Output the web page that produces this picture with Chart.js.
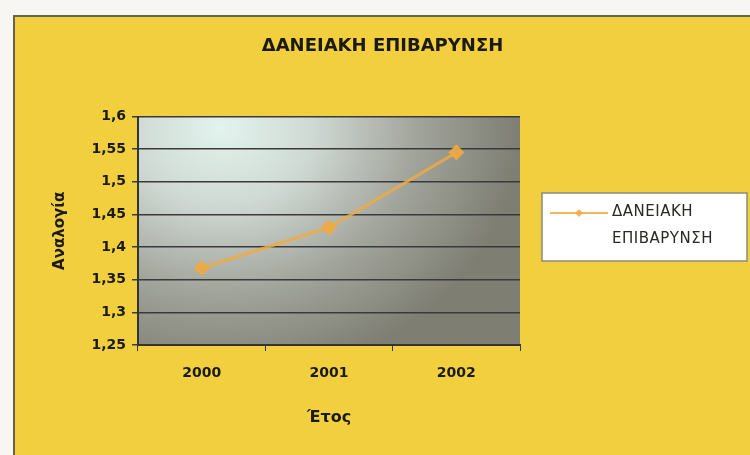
<!DOCTYPE html>
<html>
<head>
<meta charset="utf-8">
<script src="https://cdn.jsdelivr.net/npm/chart.js@4"></script>
<style>
  html, body { margin: 0; padding: 0; background: #f7f6f2; }
  #wrap {
    position: absolute; left: 13px; top: 15px; width: 737px; height: 440px;
    background: #f2cf3e; border-top: 2px solid #66634f; border-left: 2px solid #66634f;
    box-sizing: border-box;
  }
</style>
</head>
<body>
<div id="wrap"><canvas id="lineChart" width="735" height="438"></canvas></div>
<script>
const years = ['2000', '2001', '2002'];
const ratio = [1.368, 1.43, 1.545];
const yTicks = [1.25, 1.3, 1.35, 1.4, 1.45, 1.5, 1.55, 1.6];
const seriesName = 'ΔΑΝΕΙΑΚΗ ΕΠΙΒΑΡΥΝΣΗ';

const lineColor = 'rgba(240, 170, 65, 0.85)';
const font = '"DejaVu Sans", sans-serif';

// shaded plot background (elliptical glow from the top left)
const plotBg = {
  id: 'plotBg',
  beforeDraw(chart) {
    const {ctx, chartArea: a} = chart;
    const w = a.right - a.left, h = a.bottom - a.top;
    const cx = a.left + w * 0.22, cy = a.top + h * 0.05;
    const rx = w * 0.78, ry = h * 1.1;
    ctx.save();
    ctx.beginPath();
    ctx.rect(a.left, a.top, w, h);
    ctx.clip();
    ctx.fillStyle = '#7e7e73';
    ctx.fillRect(a.left, a.top, w, h);
    ctx.translate(cx, cy);
    ctx.scale(1, ry / rx);
    const g = ctx.createRadialGradient(0, 0, 0, 0, 0, rx);
    g.addColorStop(0, '#e2f3ed');
    g.addColorStop(0.3, '#d0dad4');
    g.addColorStop(0.65, '#a2a59c');
    g.addColorStop(1, '#7e7e73');
    ctx.fillStyle = g;
    ctx.fillRect(-rx * 2, -rx * 2, rx * 4, rx * 4);
    ctx.restore();
  }
};

// legend box with wrapped label
const sideLegend = {
  id: 'sideLegend',
  afterDraw(chart) {
    const ctx = chart.ctx;
    const x = 527, y = 176, w = 205, h = 68;
    ctx.save();
    ctx.fillStyle = '#ffffff';
    ctx.fillRect(x, y, w, h);
    ctx.strokeStyle = '#8a8a80';
    ctx.lineWidth = 1.5;
    ctx.strokeRect(x, y, w, h);
    ctx.strokeStyle = lineColor;
    ctx.lineWidth = 2;
    ctx.beginPath();
    ctx.moveTo(x + 8, y + 20);
    ctx.lineTo(x + 66, y + 20);
    ctx.stroke();
    ctx.fillStyle = lineColor;
    ctx.beginPath();
    ctx.moveTo(x + 37, y + 16);
    ctx.lineTo(x + 41, y + 20);
    ctx.lineTo(x + 37, y + 24);
    ctx.lineTo(x + 33, y + 20);
    ctx.closePath();
    ctx.fill();
    ctx.fillStyle = '#2a2a24';
    ctx.font = '15px ' + font;
    ctx.letterSpacing = '0.5px';
    ctx.textBaseline = 'middle';
    const words = chart.data.datasets[0].label.split(' ');
    ctx.fillText(words[0], x + 70, y + 19);
    ctx.fillText(words[1], x + 70, y + 46);
    ctx.restore();
  }
};

new Chart(document.getElementById('lineChart'), {
  type: 'line',
  data: {
    labels: years,
    datasets: [{
      label: seriesName,
      data: ratio,
      borderColor: lineColor,
      backgroundColor: lineColor,
      borderWidth: 3,
      pointStyle: 'rectRot',
      pointRadius: 6,
      pointHoverRadius: 6,
      fill: false,
      tension: 0,
      yAxisID: 'y'
    }]
  },
  options: {
    responsive: false,
    animation: false,
    layout: { padding: 0 },
    plugins: {
      legend: { display: false },
      tooltip: { enabled: false },
      title: {
        display: true,
        text: seriesName,
        color: '#1a1a10',
        font: { family: font, size: 18, weight: 'bold' },
        padding: { top: 19, bottom: 59 }
      }
    },
    scales: {
      x: {
        offset: true,
        afterFit(scale) { scale.height = 110; },
        grid: { display: true, drawOnChartArea: false, drawTicks: true, tickLength: 6, color: '#333', offset: true },
        border: { color: '#333', width: 2 },
        ticks: { color: '#1a1a10', padding: 14, font: { family: font, size: 14, weight: 'bold' } },
        title: { display: true, text: 'Έτος', color: '#1a1a10', padding: { top: 8, bottom: 28 },
          font: { family: font, size: 16, weight: 'bold' } }
      },
      y: {
        min: 1.25,
        max: 1.6,
        afterFit(scale) { scale.width = 123; },
        afterBuildTicks(scale) { scale.ticks = yTicks.map(v => ({ value: v })); },
        grid: { color: '#3a3a3a', lineWidth: 1.5, tickLength: 6 },
        border: { color: '#333', width: 2 },
        ticks: {
          color: '#1a1a10', padding: 6,
          font: { family: font, size: 14, weight: 'bold' },
          callback: v => String(Number(v.toFixed(2))).replace('.', ',')
        },
        title: { display: true, text: 'Αναλογία', color: '#1a1a10', padding: { top: 36, bottom: 0 },
          font: { family: font, size: 15, weight: 'bold' } }
      },
      side: {
        position: 'right',
        display: true,
        afterFit(scale) { scale.width = 230; },
        grid: { display: false },
        border: { display: false },
        ticks: { display: false }
      }
    }
  },
  plugins: [plotBg, sideLegend]
});
</script>
</body>
</html>
